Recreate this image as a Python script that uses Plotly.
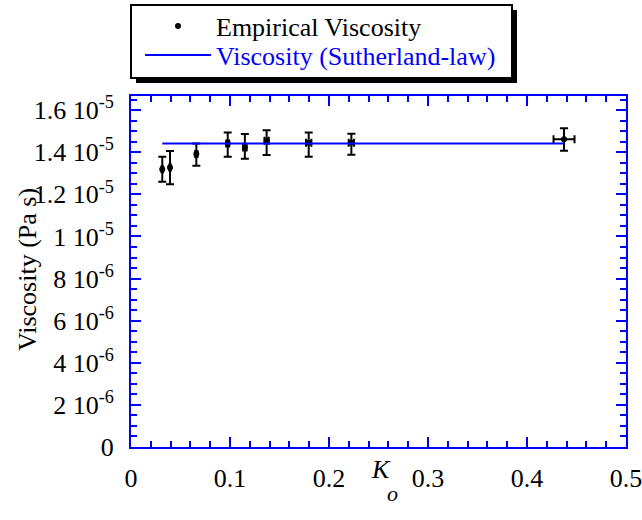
import plotly.graph_objects as go

# Data
k_o = [0.0316, 0.0394, 0.066, 0.0977, 0.115, 0.137, 0.1795, 0.2226, 0.4374]
visc = [1.319e-5, 1.327e-5, 1.392e-5, 1.442e-5, 1.423e-5, 1.455e-5, 1.445e-5, 1.445e-5, 1.461e-5]
visc_err_plus = [0.060e-5, 0.079e-5, 0.050e-5, 0.052e-5, 0.063e-5, 0.049e-5, 0.049e-5, 0.043e-5, 0.053e-5]
visc_err_minus = [0.059e-5, 0.079e-5, 0.056e-5, 0.063e-5, 0.054e-5, 0.068e-5, 0.066e-5, 0.057e-5, 0.054e-5]
k_err = [0.0008, 0.0008, 0.0012, 0.0015, 0.0018, 0.0022, 0.0027, 0.0027, 0.0106]
sutherland = [1.442e-5] * len(k_o)

y_tickvals = [0, 2e-6, 4e-6, 6e-6, 8e-6, 1e-5, 1.2e-5, 1.4e-5, 1.6e-5]
y_ticktext = ["0", "2 10<sup>-6</sup>", "4 10<sup>-6</sup>", "6 10<sup>-6</sup>", "8 10<sup>-6</sup>",
              "1 10<sup>-5</sup>", "1.2 10<sup>-5</sup>", "1.4 10<sup>-5</sup>", "1.6 10<sup>-5</sup>"]
x_tickvals = [0, 0.1, 0.2, 0.3, 0.4, 0.5]
x_ticktext = ["0", "0.1", "0.2", "0.3", "0.4", "0.5"]

FONT = "Liberation Serif"
BLUE = "#0000ff"
FS = 26

W, H = 642, 520
L, R, T, B = 131, 16, 96, 73
pw, ph = W - L - R, H - T - B


def px(x):
    return (x - L) / pw


def py(y):
    return (H - B - y) / ph


fig = go.Figure()
fig.add_trace(go.Scatter(
    x=k_o, y=visc, mode="markers", name="Empirical Viscosity",
    marker=dict(color="black", size=6),
    error_y=dict(type="data", symmetric=False, array=visc_err_plus, arrayminus=visc_err_minus,
                 color="black", thickness=2, width=4),
    error_x=dict(type="data", array=k_err, color="black", thickness=2, width=4),
    legend="legend",
))
fig.add_trace(go.Scatter(
    x=k_o, y=sutherland, mode="lines", name="Viscosity (Sutherland-law)",
    line=dict(color=BLUE, width=2),
    legend="legend2",
))

axis_common = dict(
    showline=True, linecolor=BLUE, linewidth=2, mirror="ticks",
    ticks="inside", tickcolor=BLUE, tickwidth=2, ticklen=10,
    showgrid=False, zeroline=False, automargin=False,
    ticklabeloverflow="allow",
    tickfont=dict(family=FONT, size=FS, color="black"),
)

fig.update_xaxes(
    range=[0, 0.5], tickvals=x_tickvals, ticktext=x_ticktext,
    minor=dict(ticks="inside", dtick=0.02, ticklen=6, tickcolor=BLUE, tickwidth=2),
    ticklabelstandoff=7,
    **axis_common,
)
fig.update_yaxes(
    range=[0, 1.667e-5], tickvals=y_tickvals, ticktext=y_ticktext,
    minor=dict(ticks="inside", tickvals=[i * 5e-7 for i in range(34)], ticklen=6,
               tickcolor=BLUE, tickwidth=2),
    ticklabelstandoff=10,
    **axis_common,
)

fig.add_annotation(
    x=px(27), y=py(270), xref="paper", yref="paper", text="Viscosity (Pa s)",
    xanchor="center", yanchor="middle",
    textangle=-90, showarrow=False, font=dict(family=FONT, size=FS, color="black"),
)
fig.add_annotation(
    x=px(381), y=py(470), xref="paper", yref="paper", text="<i>K</i>",
    xanchor="center", yanchor="middle",
    showarrow=False, font=dict(family=FONT, size=FS, color="black"),
)
fig.add_annotation(
    x=px(392), y=py(493), xref="paper", yref="paper", text="<i>o</i>",
    xanchor="center", yanchor="middle",
    showarrow=False, font=dict(family=FONT, size=22, color="black"),
)

# legend box with shadow
fig.add_shape(type="rect", xref="paper", yref="paper",
              x0=px(136), x1=px(517), y0=py(83), y1=py(10),
              fillcolor="black", line=dict(width=0), layer="below")
fig.add_shape(type="rect", xref="paper", yref="paper",
              x0=px(131), x1=px(512), y0=py(78), y1=py(5),
              fillcolor="white", line=dict(color="black", width=2), layer="below")

legend_common = dict(
    xanchor="left", yanchor="middle",
    bgcolor="rgba(0,0,0,0)", borderwidth=0,
    itemwidth=66, tracegroupgap=0,
)

fig.update_layout(
    width=W, height=H,
    margin=dict(l=L, r=R, t=T, b=B, autoexpand=False),
    paper_bgcolor="white", plot_bgcolor="white",
    showlegend=True,
    legend=dict(x=px(140), y=py(26), font=dict(family=FONT, size=26, color="black"),
                **legend_common),
    legend2=dict(x=px(140), y=py(55), font=dict(family=FONT, size=26, color=BLUE),
                 **legend_common),
)

fig.write_html("out.html")
